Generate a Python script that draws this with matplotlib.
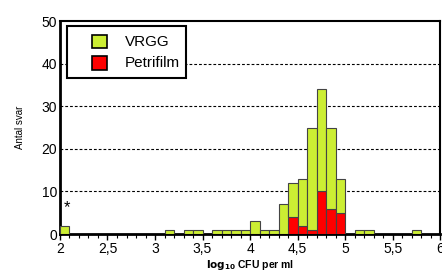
"""Histogram of reported log10 CFU per ml, VRGG and Petrifilm stacked."""

import matplotlib
import matplotlib.pyplot as plt
import numpy as np
from matplotlib.patches import Rectangle

matplotlib.use("Agg")

plt.rcParams["font.family"] = ["Liberation Sans", "DejaVu Sans"]

# Bin starts (width 0.1 log10 units)
bin_starts = [2.0, 3.1, 3.3, 3.4, 3.6, 3.7, 3.8, 3.9, 4.0, 4.1, 4.2, 4.3,
              4.4, 4.5, 4.6, 4.7, 4.8, 4.9, 5.1, 5.2, 5.7]
petrifilm = [0, 0, 0, 0, 0, 0, 0, 0, 0, 0, 0, 0,
             4, 2, 1, 10, 6, 5, 0, 0, 0]
vrgg = [2, 1, 1, 1, 1, 1, 1, 1, 3, 1, 1, 7,
        8, 11, 24, 24, 19, 8, 1, 1, 1]

bin_width = 0.1
x_labels = ["2", "2,5", "3", "3,5", "4", "4,5", "5", "5,5", "6"]
series_names = ["VRGG", "Petrifilm"]

green = "#ccee33"
red = "#ff0000"

fig = plt.figure(figsize=(4.42, 2.77), dpi=100)
ax = fig.add_axes([0.1357, 0.155, 0.86, 0.769])

x = np.array(bin_starts)
ax.bar(x, petrifilm, width=bin_width, align="edge", color=red,
       edgecolor="#444444", linewidth=0.8, zorder=3)
ax.bar(x, vrgg, width=bin_width, bottom=petrifilm, align="edge", color=green,
       edgecolor="#444444", linewidth=0.8, zorder=3)

ax.set_xlim(2, 6)
ax.set_ylim(0, 50)
ax.set_xticks(np.arange(2, 6.01, 0.5))
ax.set_xticklabels(x_labels)
ax.set_xticks(np.arange(2, 6.01, 0.1), minor=True)
ax.set_yticks(range(0, 51, 10))
ax.tick_params(axis="both", labelsize=10, pad=2)
ax.tick_params(axis="x", which="major", length=4, width=1)
ax.tick_params(axis="x", which="minor", length=3, width=0.8)
ax.tick_params(axis="y", length=0)

# Dashed reference lines
for y in [10, 20, 30, 40]:
    ax.axhline(y, color="black", linestyle=(0, (2.5, 1.8)), linewidth=0.8,
               zorder=1)

for side in ["top", "right"]:
    ax.spines[side].set_linewidth(1.5)
for side in ["left", "bottom"]:
    ax.spines[side].set_linewidth(2)

ax.text(2.07, 6.3, "*", fontsize=12, ha="center", va="center")

ax.set_ylabel("Antal svar", fontsize=7, labelpad=12)
ax.set_xlabel(r"$\mathbf{log_{10}}$ CFU per ml", fontsize=7.5,
              fontweight="bold", labelpad=1)

# Legend drawn by hand so the box matches the original layout
tr = ax.transAxes
ax.add_patch(Rectangle((0.018, 0.732), 0.314, 0.245, transform=tr,
                       facecolor="white", edgecolor="black", linewidth=1.5,
                       zorder=5))
for name, color, yc in zip(series_names, [green, red], [0.904, 0.803]):
    ax.add_patch(Rectangle((0.084, yc - 0.031), 0.039, 0.062, transform=tr,
                           facecolor=color, edgecolor="black", linewidth=1.2,
                           zorder=6))
    ax.text(0.171, yc, name, transform=tr, fontsize=11, va="center",
            ha="left", zorder=6)

fig.savefig("out.png", dpi=100)
plt.close(fig)
